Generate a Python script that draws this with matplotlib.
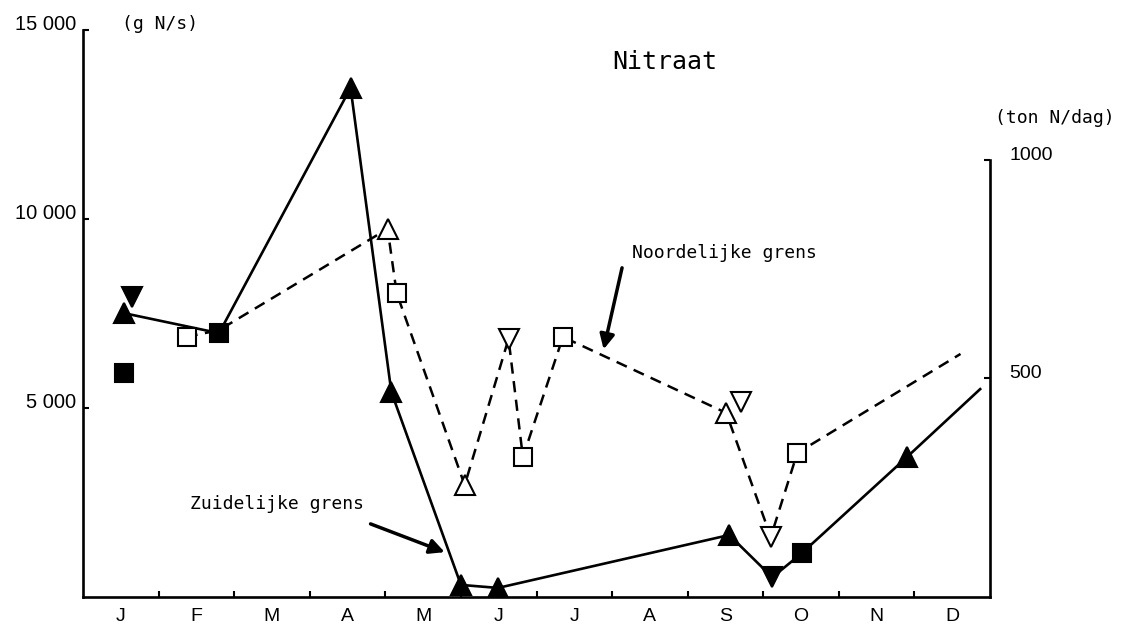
import matplotlib
matplotlib.use('Agg')
import matplotlib.pyplot as plt
from matplotlib.ticker import NullFormatter

mono = 'DejaVu Sans Mono'
sans = 'Liberation Sans'

maanden = ['J', 'F', 'M', 'A', 'M', 'J', 'J', 'A', 'S', 'O', 'N', 'D']

# Zuidelijke grens (doorgetrokken lijn, gevulde symbolen), x in maanden
zuid_x = [0.54, 1.80, 3.54, 4.08, 5.00, 5.49, 8.55, 9.12, 9.51, 10.90, 11.87]
zuid_y = [7510, 6980, 13470, 5420, 320, 240, 1640, 520, 1160, 3700, 5500]
zuid_m = ['^', 's', '^', '^', '^', '^', '^', 'v', 's', '^', '']
# losse punten zonder lijn
los_x = [0.65, 0.54]
los_y = [7940, 5930]
los_m = ['v', 's']

# Noordelijke grens (gestreepte lijn, open symbolen)
noord_x = [1.37, 1.80, 4.03, 4.15, 5.05, 5.63, 5.82, 6.35, 8.51, 9.10, 9.45, 11.61]
noord_y = [6880, 7060, 9740, 8040, 2960, 6830, 3700, 6880, 4870, 1590, 3810, 6430]
noord_m = ['s', '', '^', 's', '^', 'v', 's', 's', '^', 'v', 's', '']
noord_los_x = [8.71]
noord_los_y = [5160]
noord_los_m = ['v']

gs_naar_tondag = 86400 / 1e6

fig = plt.figure(figsize=(11.44, 6.3), dpi=100)
ax = fig.add_axes([83 / 1144, 33 / 630, 907 / 1144, 567 / 630])

ax.plot(zuid_x, zuid_y, color='black', lw=1.9, zorder=2)
ax.plot(noord_x, noord_y, color='black', lw=1.8, ls=(0, (4.5, 3)), zorder=2)

def markers(xs, ys, ms, filled):
    for x, y, m in zip(xs, ys, ms):
        if not m:
            continue
        size = 12.5 if m == 's' else 15
        ax.plot([x], [y], marker=m, ms=size, color='black',
                mfc='black' if filled else 'white', mec='black', mew=1.5,
                ls='none', zorder=3)

markers(zuid_x, zuid_y, zuid_m, True)
markers(los_x, los_y, los_m, True)
markers(noord_x, noord_y, noord_m, False)
markers(noord_los_x, noord_los_y, noord_los_m, False)

ax.set_xlim(0, 12)
ax.set_ylim(0, 15000)

for s in ['top', 'right']:
    ax.spines[s].set_visible(False)
for s in ['left', 'bottom']:
    ax.spines[s].set_linewidth(1.9)

ax.set_xticks(range(1, 12))
ax.xaxis.set_major_formatter(NullFormatter())
ax.set_xticks([i + 0.5 for i in range(12)], minor=True)
ax.set_xticklabels(maanden, minor=True, fontfamily=sans, fontsize=14)
ax.tick_params(axis='x', which='major', direction='in', length=4, width=1.5)
ax.tick_params(axis='x', which='minor', length=0, pad=8)

ax.set_yticks([5000, 10000, 15000])
ax.set_yticklabels(['5 000', '10 000', '15 000'], fontfamily=sans, fontsize=14.5)
ax.tick_params(axis='y', direction='in', length=4, width=1.5, pad=5)
for lbl in ax.get_yticklabels():
    lbl.set_va('baseline')

ax2 = ax.twinx()
ax2.set_ylim(0, 15000 * gs_naar_tondag)
for s in ['top', 'left', 'bottom']:
    ax2.spines[s].set_visible(False)
ax2.spines['right'].set_bounds(0, 1000)
ax2.spines['right'].set_linewidth(1.9)
ax2.set_yticks([500, 1000])
ax2.set_yticklabels(['500', '1000'], fontfamily=sans, fontsize=14)
ax2.tick_params(axis='y', direction='in', length=4, width=1.5, pad=14)
for lbl in ax2.get_yticklabels():
    lbl.set_va('baseline')

fig.text(122 / 1144, 1 - 24 / 630, '(g N/s)', fontfamily=mono, fontsize=13, va='center')
fig.text(995 / 1144, 1 - 118 / 630, '(ton N/dag)', fontfamily=mono, fontsize=13, va='center')
fig.text(612 / 1144, 1 - 62 / 630, 'Nitraat', fontfamily=mono, fontsize=18, va='center')

ax.annotate('', xy=(4.82, 1160), xytext=(3.77, 1960),
            arrowprops=dict(arrowstyle='-|>', lw=2.5, color='black', mutation_scale=22))
ax.text(1.41, 2460, 'Zuidelijke grens', fontfamily=mono, fontsize=13, va='center')

ax.annotate('', xy=(6.88, 6480), xytext=(7.14, 8780),
            arrowprops=dict(arrowstyle='-|>', lw=2.5, color='black', mutation_scale=22))
ax.text(7.27, 9100, 'Noordelijke grens', fontfamily=mono, fontsize=13, va='center')

fig.savefig('out.png', dpi=100)
